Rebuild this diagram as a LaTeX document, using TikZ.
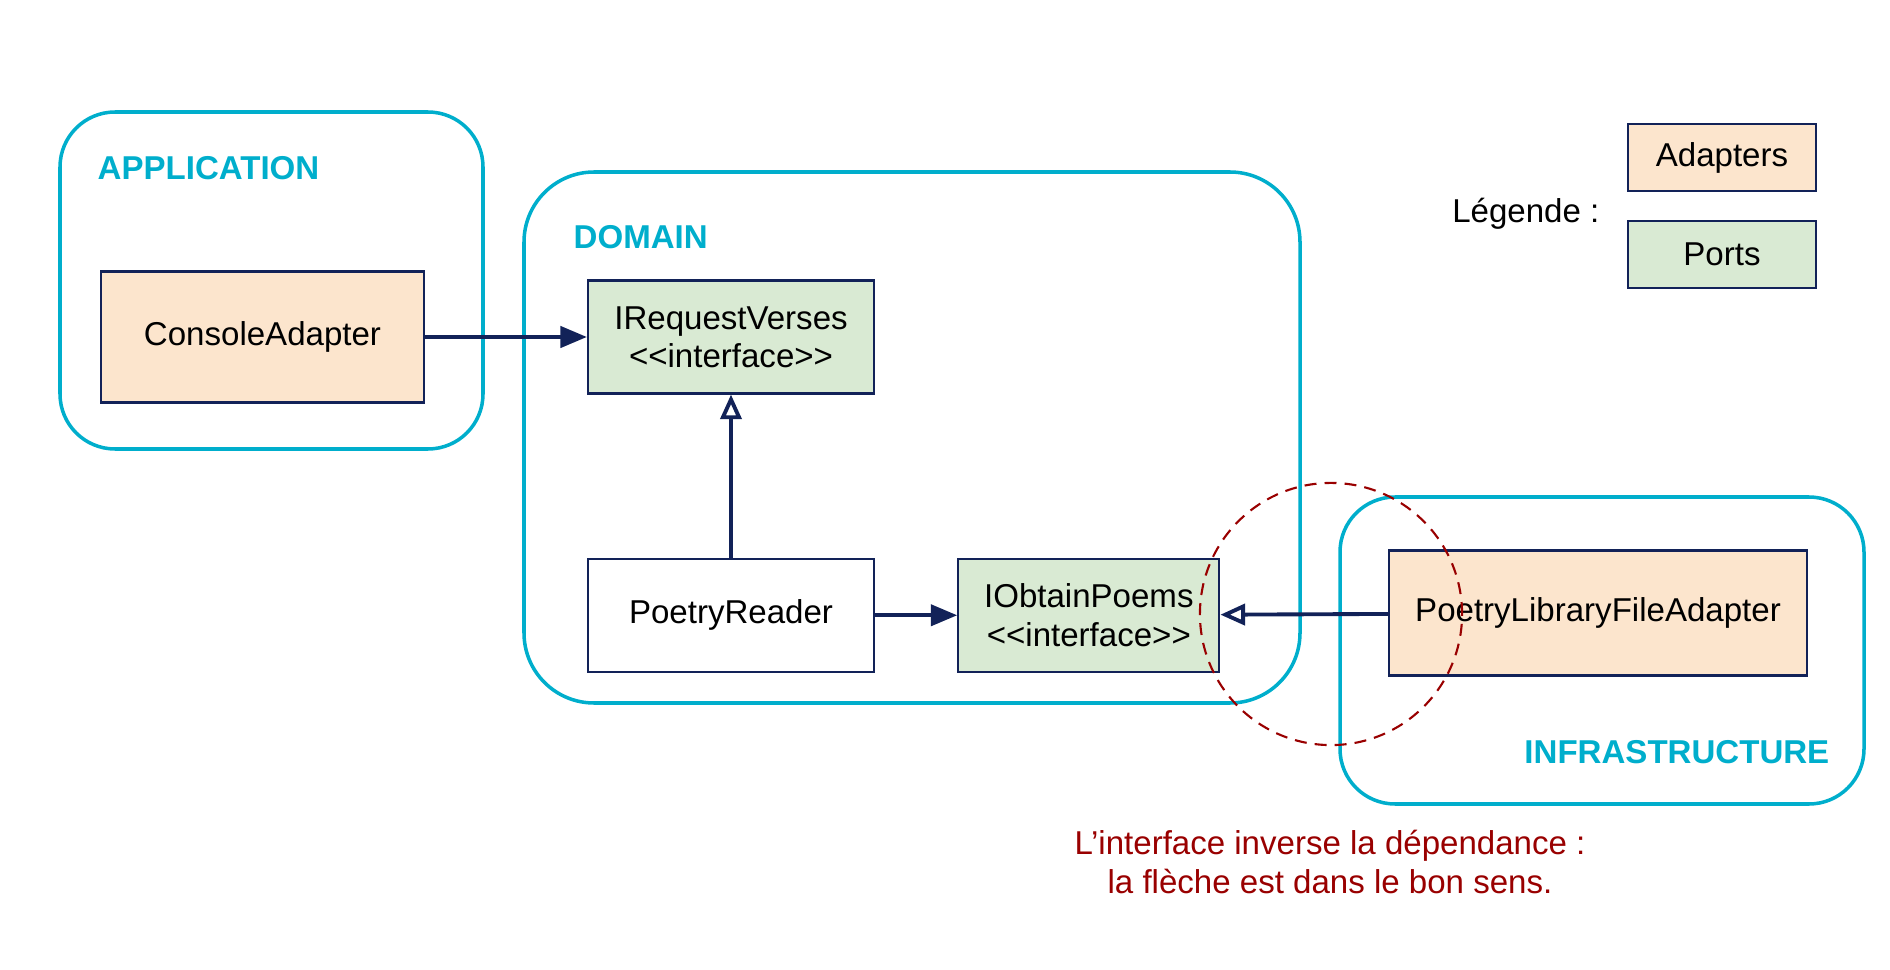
\documentclass[tikz,border=0pt]{standalone}
\usepackage{fontspec}
\setmainfont{Liberation Sans}
\usetikzlibrary{positioning,arrows.meta}
\definecolor{layercyan}{RGB}{0,174,204}
\definecolor{umlnavy}{RGB}{18,34,88}
\definecolor{adapterfill}{RGB}{252,229,205}
\definecolor{portfill}{RGB}{217,234,211}
\definecolor{notered}{RGB}{153,0,0}

\begin{document}
\begin{tikzpicture}[x=0.01cm,y=-0.01cm,
	every node/.style={font=\fontsize{9.4}{10.9}\selectfont},
	layer/.style={draw=layercyan, line width=1pt},
	layername/.style={text=layercyan, inner sep=0pt,
			font=\fontsize{9.4}{10.9}\selectfont\bfseries},
	umlbox/.style={ % boite de classe
		draw=umlnavy, line width=0.6pt, align=center, inner sep=0pt,
		minimum width=2.86cm, minimum height=1.13cm
	},
	adapter/.style={umlbox, fill=adapterfill},
	port/.style={umlbox, fill=portfill},
	uses/.style={draw=umlnavy, line width=1.1pt,
			-{Triangle[length=7.5pt,width=6pt]}},
	realizes/.style={draw=umlnavy, line width=1.1pt,
			-{Triangle[open,length=7pt,width=6pt,fill=white]}},
]
	\useasboundingbox (0,0) rectangle (1890,970);
	%% couches
	\draw[layer, rounded corners=0.55cm] (60,112) rectangle (483,449);
	\draw[layer, rounded corners=0.7cm] (524,172) rectangle (1300,703);
	\draw[layer, rounded corners=0.55cm] (1340,497) rectangle (1864,804);
	\node[layername, anchor=west] (applabel) at (97,168) {APPLICATION};
	\node[layername, anchor=west] (domainlabel) at (573,237) {DOMAIN};
	\node[layername, anchor=east] (infralabel) at (1830,752) {INFRASTRUCTURE};

	%% classes
	\node[adapter, minimum width=3.23cm, minimum height=1.31cm] (console) at (262.5,337) {ConsoleAdapter};
	\node[port] (requestverses) at (731,337) {IRequestVerses\\<{}<interface>{}>};
	\node[umlbox, below=1.63cm of requestverses] (poetryreader) {PoetryReader};
	\node[port, minimum width=2.61cm, right=0.82cm of poetryreader] (obtainpoems) {IObtainPoems\\<{}<interface>{}>};
	\node[adapter, minimum width=4.18cm, minimum height=1.25cm] (filelibrary) at (1598,613) {PoetryLibraryFileAdapter};

	% dependances
	\draw[uses] (console) -- (requestverses);
	\draw[realizes] (poetryreader) -- (requestverses);
	\draw[uses] (poetryreader) -- (obtainpoems);
	\draw[realizes] (filelibrary) -- (obtainpoems);

	%% legende
	\node[adapter, minimum width=1.88cm, minimum height=0.67cm] (legendadapters) at (1722,157.5) {Adapters};
	\node[port, minimum width=1.88cm, minimum height=0.67cm, below=0.28cm of legendadapters] (legendports) {Ports};
	\node[inner sep=0pt, anchor=east] (legendtitle) at (1600,214) {Légende :};

	%% remarque
	\draw[notered, line width=0.6pt, dash pattern=on 3.4pt off 2.3pt] (1331,614) circle[radius=1.31cm];
	\node[text=notered, align=center, font=\fontsize{9.4}{10.9}\selectfont] (note) at (1330,862) {L’interface inverse la dépendance :\\la flèche est dans le bon sens.};
\end{tikzpicture}
\end{document}
